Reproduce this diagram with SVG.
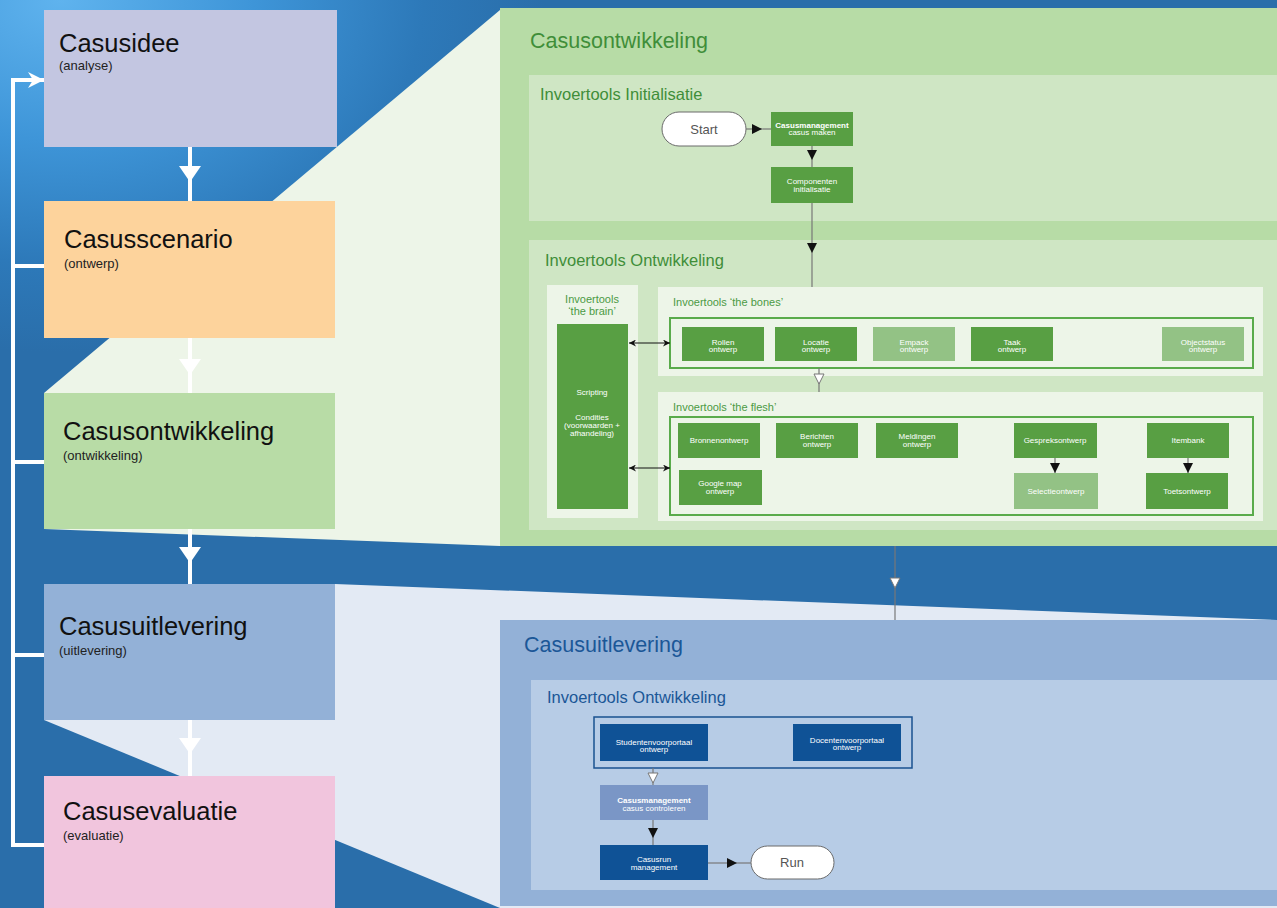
<svg xmlns="http://www.w3.org/2000/svg" width="1277" height="908" viewBox="0 0 1277 908">
<defs>
<radialGradient id="bg" cx="60" cy="0" r="440" gradientUnits="userSpaceOnUse" gradientTransform="translate(60,0) scale(1.1,0.8) translate(-60,0)">
<stop offset="0" stop-color="#5fb3ee"/>
<stop offset="0.4" stop-color="#3e95d8"/>
<stop offset="0.75" stop-color="#2d79b9"/>
<stop offset="1" stop-color="#2a6eaa"/>
</radialGradient>
<marker id="blk" viewBox="0 0 10 10" refX="10" refY="5" markerUnits="userSpaceOnUse" markerWidth="10" markerHeight="10" orient="auto">
<path d="M0,0 L10,5 L0,10 z" fill="#111"/>
</marker>
<marker id="dbl" viewBox="0 0 10 10" refX="10" refY="5" markerUnits="userSpaceOnUse" markerWidth="8" markerHeight="7" orient="auto-start-reverse">
<path d="M0,0 L10,5 L0,10 L3,5 z" fill="#111"/>
</marker>
<marker id="open" viewBox="0 0 12 12" refX="11" refY="6" markerUnits="userSpaceOnUse" markerWidth="12" markerHeight="12" orient="auto">
<path d="M1,1 L11,6 L1,11 z" fill="#fff" stroke="#777" stroke-width="1"/>
</marker>
<marker id="wht" viewBox="0 0 16 22" refX="16" refY="11" markerUnits="userSpaceOnUse" markerWidth="16" markerHeight="22" orient="auto">
<path d="M0,0 L16,11 L0,22 z" fill="#fff"/>
</marker>
<marker id="whtn" viewBox="0 0 16 16" refX="16" refY="8" markerUnits="userSpaceOnUse" markerWidth="16" markerHeight="16" orient="auto">
<path d="M0,0 L16,8 L0,16 L5,8 z" fill="#fff"/>
</marker>
<style>
text{font-family:"Liberation Sans",Arial,sans-serif}
.st{font-size:25.5px;fill:#111}
.ss{font-size:13px;fill:#222}
.gt{font-size:21.5px;fill:#3f8e39}
.gh{font-size:16.5px;fill:#3f8e39}
.gs{font-size:11px;fill:#4b9a44}
.bt{font-size:21.5px;fill:#1b5797}
.bh{font-size:16.5px;fill:#1b5797}
.gd{fill:#589f43}
.gl{fill:#93c285}
.bd{fill:#0f5296}
.bm{fill:#7a96c6}
.lbl{font-size:8px;fill:#fff;text-anchor:middle}
.pale{fill:#edf5e8}
.mid{fill:#cfe6c4}
.term{fill:#fff;stroke:#6a6a6a;stroke-width:1}
.tt{font-size:13px;fill:#555;text-anchor:middle}
.conn{stroke:#777;stroke-width:1.2;fill:none}
.wl{stroke:#fff;stroke-width:4;fill:none}
.frg{fill:none;stroke:#5aab4b;stroke-width:2}
.frb{fill:none;stroke:#1a5190;stroke-width:1.5}
</style>
</defs>

<rect x="0" y="0" width="1277" height="908" fill="url(#bg)"/>

<g id="projections">
<polygon points="44,393 500,10 500,546 44,529" fill="#edf5e8"/>
<polygon points="335,584 1277,620 1277,908 500,908 44,720 44,584" fill="#e3eaf4"/>
</g>

<g id="stage-casusidee">
<rect x="44" y="10" width="293" height="137" fill="#c3c6e1"/>
<text x="59" y="52" class="st">Casusidee</text>
<text x="59" y="70" class="ss">(analyse)</text>
</g>
<g id="stage-casusscenario">
<rect x="44" y="201" width="291" height="137" fill="#fdd39c"/>
<text x="64" y="248" class="st">Casusscenario</text>
<text x="64" y="268" class="ss">(ontwerp)</text>
</g>
<g id="stage-casusontwikkeling">
<rect x="44" y="393" width="291" height="136" fill="#b8dca6"/>
<text x="63" y="440" class="st">Casusontwikkeling</text>
<text x="63" y="460" class="ss">(ontwikkeling)</text>
</g>
<g id="stage-casusuitlevering">
<rect x="44" y="584" width="291" height="136" fill="#93b1d7"/>
<text x="59" y="635" class="st">Casusuitlevering</text>
<text x="59" y="655" class="ss">(uitlevering)</text>
</g>
<g id="stage-casusevaluatie">
<rect x="44" y="776" width="291" height="132" fill="#f1c5dd"/>
<text x="63" y="820" class="st">Casusevaluatie</text>
<text x="63" y="840" class="ss">(evaluatie)</text>
</g>

<g id="panel-ontwikkeling">
<rect x="500" y="8" width="777" height="538" fill="#b7dca6"/>
<text x="530" y="48" class="gt">Casusontwikkeling</text>
<rect x="529" y="75" width="748" height="146" class="mid"/>
<text x="540" y="100" class="gh">Invoertools Initialisatie</text>
<rect x="529" y="240" width="748" height="290" class="mid"/>
<text x="545" y="266" class="gh">Invoertools Ontwikkeling</text>
<rect x="547" y="285" width="91" height="233" class="pale"/>
<text x="592" y="303" class="gs" text-anchor="middle">Invoertools</text>
<text x="592" y="315" class="gs" text-anchor="middle">‘the brain’</text>
<rect x="658" y="287" width="605" height="89" class="pale"/>
<text x="673" y="306" class="gs">Invoertools ‘the bones’</text>
<rect x="670" y="318" width="583" height="50" class="frg"/>
<rect x="658" y="392" width="605" height="129" class="pale"/>
<text x="673" y="411" class="gs">Invoertools ‘the flesh’</text>
<rect x="670" y="417" width="583" height="98" class="frg"/>
</g>

<g id="panel-uitlevering">
<rect x="500" y="620" width="777" height="286" fill="#93b1d7"/>
<text x="524" y="652" class="bt">Casusuitlevering</text>
<rect x="531" y="680" width="746" height="210" fill="#b7cce6"/>
<text x="547" y="703" class="bh">Invoertools Ontwikkeling</text>
<rect x="594" y="717" width="318" height="51" class="frb"/>
</g>

<g id="node-start">
<rect x="662" y="112" width="84" height="34" rx="17" class="term"/>
<text x="704" y="134" class="tt">Start</text>
</g>
<g id="node-casusmanagement-maken">
<rect x="771" y="112" width="82" height="34" class="gd"/>
<text x="812" y="128" class="lbl" font-weight="bold">Casusmanagement</text>
<text x="812" y="135" class="lbl">casus maken</text>
</g>
<g id="node-componenten">
<rect x="771" y="167" width="82" height="36" class="gd"/>
<text x="812" y="184" class="lbl">Componenten</text>
<text x="812" y="192" class="lbl">initialisatie</text>
</g>
<g id="node-brain">
<rect x="557" y="324" width="71" height="185" class="gd"/>
<text x="592" y="395" class="lbl">Scripting</text>
<text x="592" y="420" class="lbl">Condities</text>
<text x="592" y="428" class="lbl">(voorwaarden +</text>
<text x="592" y="436" class="lbl">afhandeling)</text>
</g>
<g id="node-rollen">
<rect x="682" y="327" width="82" height="34" class="gd"/>
<text x="723" y="345" class="lbl">Rollen</text>
<text x="723" y="352" class="lbl">ontwerp</text>
</g>
<g id="node-locatie">
<rect x="775" y="327" width="82" height="34" class="gd"/>
<text x="816" y="345" class="lbl">Locatie</text>
<text x="816" y="352" class="lbl">ontwerp</text>
</g>
<g id="node-empack">
<rect x="873" y="327" width="82" height="34" class="gl"/>
<text x="914" y="345" class="lbl">Empack</text>
<text x="914" y="352" class="lbl">ontwerp</text>
</g>
<g id="node-taak">
<rect x="971" y="327" width="82" height="34" class="gd"/>
<text x="1012" y="345" class="lbl">Taak</text>
<text x="1012" y="352" class="lbl">ontwerp</text>
</g>
<g id="node-objectstatus">
<rect x="1162" y="327" width="82" height="34" class="gl"/>
<text x="1203" y="345" class="lbl">Objectstatus</text>
<text x="1203" y="352" class="lbl">ontwerp</text>
</g>
<g id="node-bronnen">
<rect x="678" y="423" width="82" height="35" class="gd"/>
<text x="719" y="443" class="lbl">Bronnenontwerp</text>
</g>
<g id="node-berichten">
<rect x="776" y="423" width="82" height="35" class="gd"/>
<text x="817" y="439" class="lbl">Berichten</text>
<text x="817" y="447" class="lbl">ontwerp</text>
</g>
<g id="node-meldingen">
<rect x="876" y="423" width="82" height="35" class="gd"/>
<text x="917" y="439" class="lbl">Meldingen</text>
<text x="917" y="447" class="lbl">ontwerp</text>
</g>
<g id="node-gesprek">
<rect x="1014" y="423" width="83" height="35" class="gd"/>
<text x="1055" y="443" class="lbl">Gespreksontwerp</text>
</g>
<g id="node-itembank">
<rect x="1147" y="423" width="82" height="35" class="gd"/>
<text x="1188" y="443" class="lbl">Itembank</text>
</g>
<g id="node-googlemap">
<rect x="679" y="470" width="83" height="35" class="gd"/>
<text x="720" y="486" class="lbl">Google map</text>
<text x="720" y="494" class="lbl">ontwerp</text>
</g>
<g id="node-selectie">
<rect x="1014" y="473" width="84" height="36" class="gl"/>
<text x="1056" y="494" class="lbl">Selectieontwerp</text>
</g>
<g id="node-toets">
<rect x="1146" y="473" width="82" height="36" class="gd"/>
<text x="1187" y="494" class="lbl">Toetsontwerp</text>
</g>

<g id="node-studenten">
<rect x="600" y="724" width="108" height="37" class="bd"/>
<text x="654" y="745" class="lbl">Studentenvoorportaal</text>
<text x="654" y="752" class="lbl">ontwerp</text>
</g>
<g id="node-docenten">
<rect x="793" y="724" width="108" height="37" class="bd"/>
<text x="847" y="743" class="lbl">Docentenvoorportaal</text>
<text x="847" y="750" class="lbl">ontwerp</text>
</g>
<g id="node-casusmanagement-controleren">
<rect x="600" y="785" width="108" height="35" class="bm"/>
<text x="654" y="803" class="lbl" font-weight="bold">Casusmanagement</text>
<text x="654" y="811" class="lbl">casus controleren</text>
</g>
<g id="node-casusrun">
<rect x="600" y="845" width="108" height="35" class="bd"/>
<text x="654" y="862" class="lbl">Casusrun</text>
<text x="654" y="870" class="lbl">management</text>
</g>
<g id="node-run">
<rect x="751" y="846" width="83" height="33" rx="16.5" class="term"/>
<text x="792" y="867" class="tt">Run</text>
</g>

<g id="connectors">
<path class="wl" d="M44,845 H13 V80 H44" marker-end="url(#whtn)"/>
<path class="wl" d="M13,266 H44 M13,462 H44 M13,655 H44"/>
<path class="wl" d="M190,147 V182" marker-end="url(#wht)"/>
<path class="wl" d="M190,182 V201"/>
<path class="wl" d="M190,338 V375" marker-end="url(#wht)"/>
<path class="wl" d="M190,375 V393"/>
<path class="wl" d="M190,529 V563" marker-end="url(#wht)"/>
<path class="wl" d="M190,563 V584"/>
<path class="wl" d="M190,720 V754" marker-end="url(#wht)"/>
<path class="wl" d="M190,754 V776"/>

<path class="conn" d="M746,129 H762" marker-end="url(#blk)"/>
<path class="conn" d="M762,129 H771"/>
<path class="conn" d="M812,146 V160" marker-end="url(#blk)"/>
<path class="conn" d="M812,160 V167"/>
<path class="conn" d="M812,203 V253" marker-end="url(#blk)"/>
<path class="conn" d="M812,253 V287"/>
<path class="conn" d="M819,368 V384" marker-end="url(#open)"/>
<path class="conn" d="M819,384 V392"/>
<path class="conn" d="M895,546 V588" marker-end="url(#open)"/>
<path class="conn" d="M895,588 V620"/>
<path class="conn" d="M1055,458 V473" marker-end="url(#blk)"/>
<path class="conn" d="M1188,458 V473" marker-end="url(#blk)"/>
<path d="M629,343 H670" stroke="#111" stroke-width="1" fill="none" marker-start="url(#dbl)" marker-end="url(#dbl)"/>
<path d="M629,468 H670" stroke="#111" stroke-width="1" fill="none" marker-start="url(#dbl)" marker-end="url(#dbl)"/>
<path class="conn" d="M653,768 V783" marker-end="url(#open)"/>
<path class="conn" d="M653,783 V785"/>
<path class="conn" d="M653,820 V838" marker-end="url(#blk)"/>
<path class="conn" d="M653,838 V845"/>
<path class="conn" d="M708,863 H737" marker-end="url(#blk)"/>
<path class="conn" d="M737,863 H751"/>
</g>
</svg>
